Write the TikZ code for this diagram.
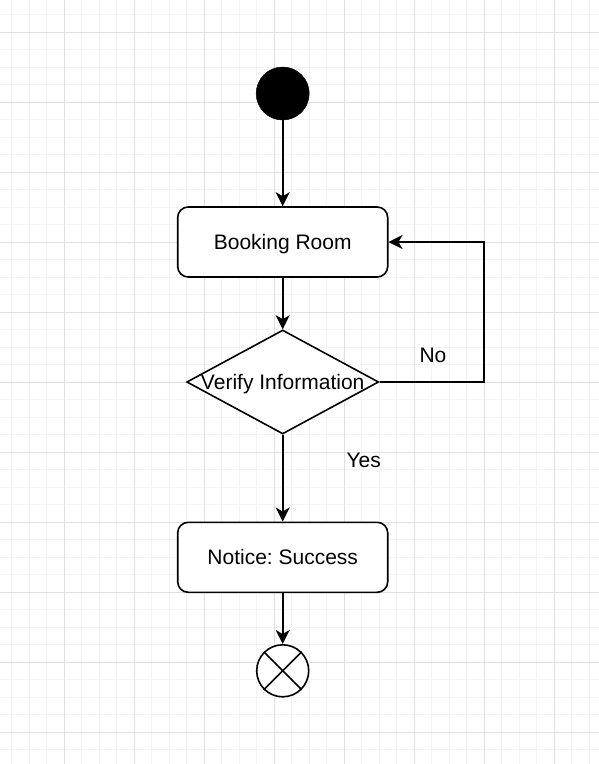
\documentclass[tikz,border=0pt]{standalone}
\usepackage{fontspec}
\setmainfont{Liberation Sans}
\usetikzlibrary{arrows.meta,shapes.geometric}
\definecolor{gridminor}{HTML}{F3F3F3}
\definecolor{gridmajor}{HTML}{E0E0E0}
\frenchspacing
\begin{document}
\begin{tikzpicture}[x=1pt,y=-1pt,
  line width=1.6pt,
  arr/.style={-{Stealth[length=14pt,width=14pt,inset=4pt]}},
  txt/.style={font=\fontsize{21}{25}\selectfont},
  actbox/.style={draw,rounded corners=10.5pt,minimum width=210pt,minimum height=70pt,inner sep=0pt,txt,text height=15pt,text depth=0pt,fill=white},
  decide/.style={draw,diamond,minimum width=192pt,minimum height=104pt,inner sep=0pt,txt,text height=15pt,text depth=0pt,fill=white},
  lbl/.style={txt,anchor=base west,inner sep=0pt}]
\useasboundingbox (0,0) rectangle (599,764);
\fill[white] (0,0) rectangle (599,764);
\foreach \k in {0,...,33} \draw[gridminor,line width=1pt] (11.8+17.5*\k,0) -- (11.8+17.5*\k,764);
\foreach \k in {0,...,42} \draw[gridminor,line width=1pt] (0,14.8+17.5*\k) -- (599,14.8+17.5*\k);
\foreach \k in {0,...,8} \draw[gridmajor,line width=1pt] (64.3+70*\k,0) -- (64.3+70*\k,764);
\foreach \k in {0,...,10} \draw[gridmajor,line width=1pt] (0,32.3+70*\k) -- (599,32.3+70*\k);
\node[circle,fill=black,draw=black,line width=0.5pt,minimum size=53pt,inner sep=0pt] (start) at (282.7,93.5) {};
\node[actbox] (book) at (282.7,242) {Booking Room};
\node[decide] (verify) at (282.7,382) {\makebox[0pt]{Verify Information}};
\node[actbox] (notice) at (282.7,557.3) {Notice: Success};
\node[circle,draw,minimum size=52pt,inner sep=0pt,fill=white] (end) at (282.7,670.8) {};
\draw (end.north east) -- (end.south west);
\draw (end.north west) -- (end.south east);
\draw[arr] (start.south) -- (book.north);
\draw[arr] (book.south) -- (verify.north);
\draw[arr] (verify.south) -- (notice.north);
\draw[arr] (notice.south) -- (end.north);
\coordinate (turn) at (484,382);
\draw[arr] (verify.east) -- (turn) |- (book.east);
\node[lbl] (no) at (418.7,362.7) {No};
\node[lbl] (yes) at (345.7,467.3) {Yes};
\end{tikzpicture}
\end{document}
